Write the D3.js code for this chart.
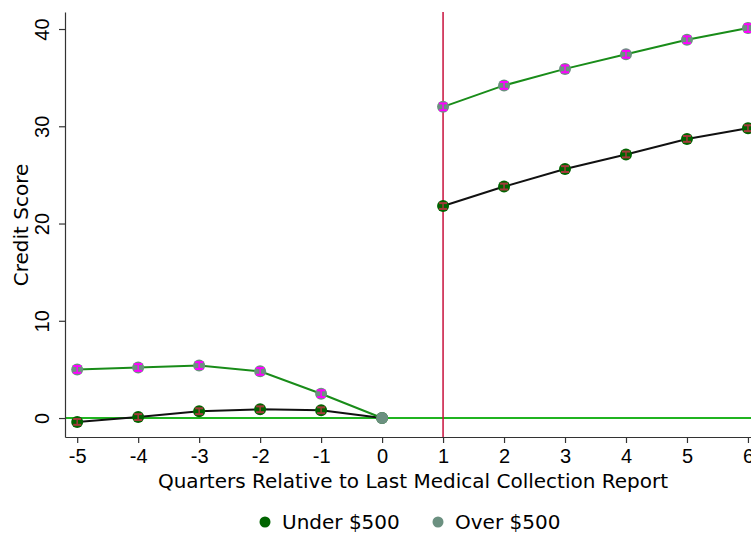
<!DOCTYPE html>
<html>
<head>
<meta charset="utf-8">
<script src="https://cdn.jsdelivr.net/npm/d3@7"></script>
<style>
  body { margin: 0; background: #fff; }
  svg { display: block; font-family: "DejaVu Sans", sans-serif; }
</style>
</head>
<body>
<div id="chart"></div>
<script>
// quarters and estimates
var quarters = [-5, -4, -3, -2, -1, 0, 1, 2, 3, 4, 5, 6]
var under500 = [-0.4, 0.1, 0.7, 0.9, 0.8, 0, 21.8, 23.8, 25.6, 27.1, 28.7, 29.8]
var over500 = [5.0, 5.2, 5.4, 4.8, 2.5, 0, 32.0, 34.2, 35.9, 37.4, 38.9, 40.1]
var underCI = [0.3, 0.3, 0.3, 0.3, 0.3, 0, 0.3, 0.3, 0.3, 0.3, 0.3, 0.3]
var overCI = [0.35, 0.35, 0.35, 0.35, 0.35, 0, 0.35, 0.35, 0.35, 0.35, 0.35, 0.4]
var yTicks = [0, 10, 20, 30, 40]
var legendLabels = ["Under $500", "Over $500"]

var width = 751
var height = 533
var margin = {top: 12, right: 0, bottom: 96, left: 65}

var svg = d3.select("#chart").append("svg")
    .attr("width", width)
    .attr("height", height)

var x = d3.scaleLinear().domain([-5.2, 6.05]).range([margin.left, 751])
var y = d3.scaleLinear().domain([-1.95, 41.75]).range([437, margin.top])

// reference lines
svg.append("line")
  .attr("x1", margin.left).attr("x2", width)
  .attr("y1", y(0)).attr("y2", y(0))
  .attr("stroke", "#20b420").attr("stroke-width", 2)

svg.append("line")
  .attr("x1", x(1)).attr("x2", x(1))
  .attr("y1", margin.top).attr("y2", 437)
  .attr("stroke", "#c8103c").attr("stroke-width", 1.5)

// axes
var yAxis = svg.append("g")
  .attr("transform", "translate(" + margin.left + ",0)")
  .call(d3.axisLeft(y).tickValues(yTicks).tickSize(6).tickSizeOuter(0))
yAxis.selectAll("text")
  .attr("x", -23).attr("y", 0).attr("dy", "0.35em")
  .attr("transform", "rotate(-90,-23,0)")
  .attr("text-anchor", "middle")
  .style("font-size", "20px")

var xAxis = svg.append("g")
  .attr("transform", "translate(0,437)")
  .call(d3.axisBottom(x).tickValues(quarters).tickFormat(function(d){ return String(d) })
    .tickSize(6).tickSizeOuter(0).tickPadding(6))
xAxis.selectAll("text").style("font-size", "20px")

svg.selectAll(".domain, .tick line").attr("stroke", "#333").attr("stroke-width", 1.2)
svg.selectAll(".tick text").attr("fill", "#000")

svg.append("text")
  .attr("x", 413).attr("y", 488)
  .attr("text-anchor", "middle")
  .style("font-size", "20px")
  .text("Quarters Relative to Last Medical Collection Report")

svg.append("text")
  .attr("transform", "translate(28,225) rotate(-90)")
  .attr("text-anchor", "middle")
  .style("font-size", "20px")
  .text("Credit Score")

var series = [
  {vals: under500, ci: underCI, line: "#111", fill: "#006400", bar: "#a33a3a"},
  {vals: over500, ci: overCI, line: "#198c19", fill: "#6b9080", bar: "#ff00ff"}
]

// the line breaks at the event quarter
var lineGen = d3.line()
  .x(function(d){ return x(d.q) })
  .y(function(d){ return y(d.v) })

series.forEach(function(s){
  var pts = s.vals.map(function(v, i){ return {q: quarters[i], v: v} })
  var pre = pts.filter(function(d){ return d.q <= 0 })
  var post = pts.filter(function(d){ return d.q >= 1 })
  ;[pre, post].forEach(function(seg){
    svg.append("path")
      .attr("d", lineGen(seg))
      .attr("fill", "none")
      .attr("stroke", s.line)
      .attr("stroke-width", 2)
  })
})

series.forEach(function(s){
  var g = svg.append("g")
  g.selectAll("circle").data(s.vals).enter().append("circle")
    .attr("cx", function(d, i){ return x(quarters[i]) })
    .attr("cy", function(d){ return y(d) })
    .attr("r", 6)
    .attr("fill", s.fill)

  s.vals.forEach(function(d, i){
    if (s.ci[i] === 0) return
    var cx = x(quarters[i])
    var lo = y(d - s.ci[i]), hi = y(d + s.ci[i])
    g.append("line").attr("x1", cx).attr("x2", cx).attr("y1", lo).attr("y2", hi)
      .attr("stroke", s.bar).attr("stroke-width", 1.5)
    g.append("line").attr("x1", cx - 4).attr("x2", cx + 4).attr("y1", lo).attr("y2", lo)
      .attr("stroke", s.bar).attr("stroke-width", 2)
    g.append("line").attr("x1", cx - 4).attr("x2", cx + 4).attr("y1", hi).attr("y2", hi)
      .attr("stroke", s.bar).attr("stroke-width", 2)
  })
})

// legend
var legend = svg.append("g")
var legendX = [265, 438]
legendLabels.forEach(function(l, i){
  legend.append("circle")
    .attr("cx", legendX[i]).attr("cy", 522)
    .attr("r", 5.5)
    .attr("fill", series[i].fill)
  legend.append("text")
    .attr("x", legendX[i] + 17).attr("y", 522)
    .attr("dy", "0.35em")
    .style("font-size", "20px")
    .text(l)
})
</script>
</body>
</html>
